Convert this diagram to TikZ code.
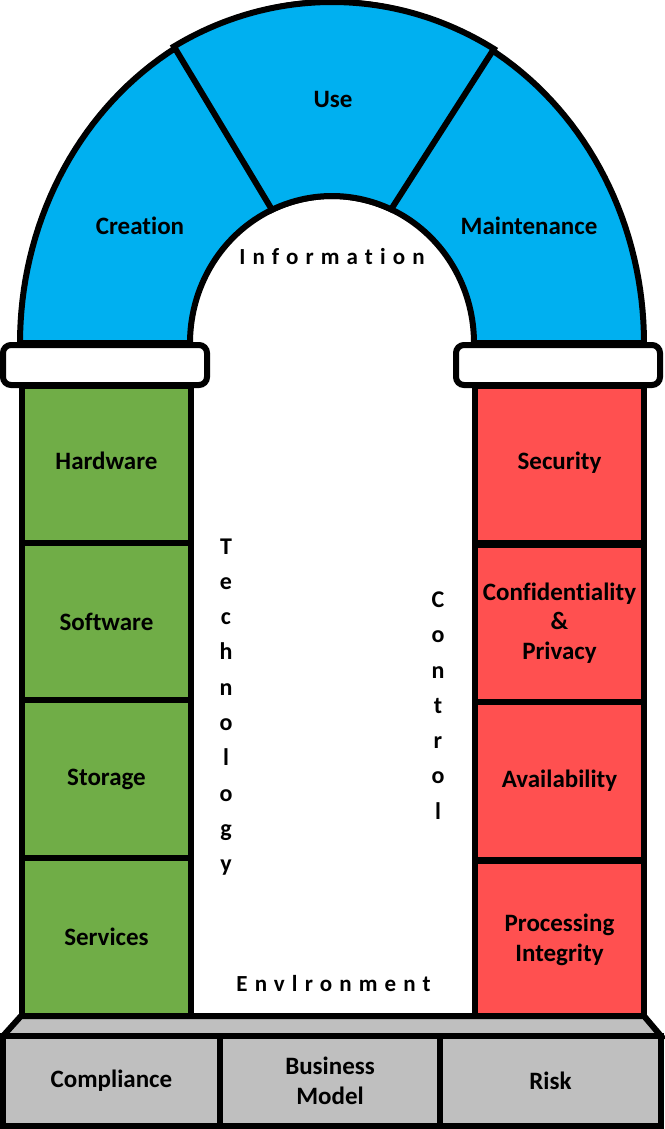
\documentclass[tikz,border=0pt]{standalone}
\usepackage{fontspec}
\setmainfont{Carlito}[Ligatures=NoCommon]
\newfontfamily\spacedfamily{Carlito}[LetterSpace=31,Ligatures=NoCommon]
\definecolor{archblue}{HTML}{00B0F0}
\definecolor{pgreen}{HTML}{70AD47}
\definecolor{pred}{HTML}{FF5050}
\definecolor{bgray}{HTML}{BFBFBF}
\newcommand\archfont{\bfseries\fontsize{25}{29.8}\selectfont}
\newcommand\spacefont{\spacedfamily\bfseries\fontsize{23}{26}\selectfont}
\begin{document}
\begin{tikzpicture}[x=1pt,y=-1pt,
  archline/.style={draw=black, line width=6pt},
  cellbox/.style={draw=black, line width=6pt, minimum width=169pt, inner sep=0pt, align=center, font=\archfont},
  greencell/.style={cellbox, fill=pgreen},
  redcell/.style={cellbox, fill=pred},
  basecell/.style={draw=black, line width=6pt, fill=bgray, minimum height=90pt, inner sep=0pt, align=center, font=\archfont},
  capital/.style={draw=black, line width=6pt, fill=white, rounded corners=8pt},
  txt/.style={inner sep=0pt, align=center, font=\archfont},
  vtxt/.style={inner sep=0pt, align=center, font={\bfseries\fontsize{24}{35.3}\selectfont}},
  stxt/.style={inner sep=0pt, font=\spacefont}]
\useasboundingbox (0,0) rectangle (664,1129);
% arch ring
\draw[archline, fill=archblue]
  plot[domain=180:0, samples=100] ({332+312*cos(\x)},{343-341*sin(\x)})
  -- plot[domain=0:180, samples=100] ({332+142*cos(\x)},{343-147*sin(\x)}) -- cycle;
% keystone (Use)
\draw[archline, fill=archblue]
  plot[domain=119.6:59.6, samples=60] ({332+320*cos(\x)},{343-341*sin(\x)})
  -- plot[domain=65.4:115, samples=40] ({332+142*cos(\x)},{343-147*sin(\x)}) -- cycle;
% left pillar
\node[greencell, minimum height=157pt, text depth=8pt] (hw) at (106.5,464.5) {Hardware};
\node[greencell, minimum height=157pt] (sw) at (106.5,621.5) {Software};
\node[greencell, minimum height=158pt] (st) at (106.5,779) {Storage};
\node[greencell, minimum height=158pt] (sv) at (106.5,937) {Services};
% right pillar
\node[redcell, minimum height=157pt, text depth=7pt] (sec) at (559.5,464.5) {Security};
\node[redcell, minimum height=157pt] (cp) at (559.5,623) {Confidentiality\\\&\\Privacy};
\node[redcell, minimum height=158pt] (av) at (559.5,781) {Availability};
\node[redcell, minimum height=158pt] (pi) at (559.5,939.5) {Processing\\Integrity};
% capitals
\draw[capital] (3,345) rectangle (207,385);
\draw[capital] (456,345) rectangle (660,385);
% plinth
\draw[archline, fill=bgray] (21,1016) -- (644,1016) -- (661,1036) -- (3,1036) -- cycle;
\node[basecell, minimum width=217pt] (comp) at (111.5,1081) {Compliance};
\node[basecell, minimum width=220pt] (bm) at (330,1081) {Business\\Model};
\node[basecell, minimum width=221pt] (risk) at (550.5,1081) {Risk};
% arch labels
\node[txt] (creation) at (140,226) {Creation};
\node[txt] (use) at (333,99) {Use};
\node[txt] (maint) at (529,226) {Maintenance};
\node[stxt] (info) at (332,257) {Information};
\node[stxt] (env) at (333.5,984) {Envlronment};
\node[vtxt] (tech) at (226,707) {T\\e\\c\\h\\n\\o\\l\\o\\g\\y};
\node[vtxt] (ctrl) at (438,705.5) {C\\o\\n\\t\\r\\o\\l};
\end{tikzpicture}
\end{document}
